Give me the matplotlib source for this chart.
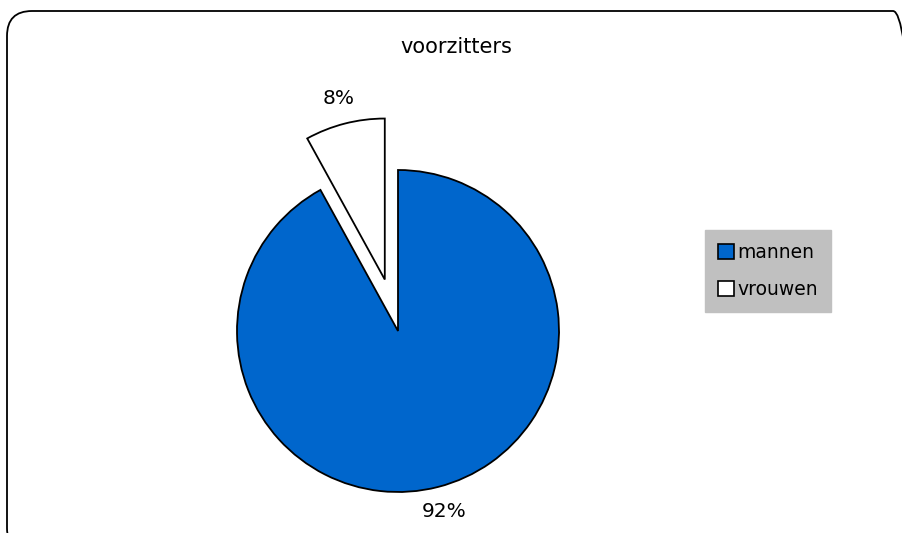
import matplotlib
matplotlib.use("Agg")
import matplotlib.pyplot as plt
from matplotlib.patches import FancyBboxPatch, Patch

categories = ["mannen", "vrouwen"]
values = [92, 8]
colors = ["#0066CC", "#FFFFFF"]
title = "voorzitters"

W, H = 903, 533
fig = plt.figure(figsize=(W / 100, H / 100), dpi=100)
ax = fig.add_axes([0, 0, 1, 1])

font = "DejaVu Sans"
R = 161

wedges, texts, autotexts = ax.pie(
    values,
    colors=colors,
    startangle=90,
    counterclock=False,
    explode=[0, 0.33 * R],
    center=(398, 202),
    radius=R,
    autopct=lambda p: f"{p:.0f}%",
    pctdistance=1.16,
    wedgeprops=dict(edgecolor="black", linewidth=1.3),
    textprops=dict(fontsize=14.5, family=font, color="black"),
)
ax.set_xlim(0, W)
ax.set_ylim(0, H)
ax.set_aspect("equal")
ax.axis("off")

# rounded chart border (right and bottom edges run past the image)
border = FancyBboxPatch((7, -20), 911, 542,
                        boxstyle="round,pad=0,rounding_size=25",
                        facecolor="none", edgecolor="black", linewidth=1.3,
                        clip_on=False)
ax.add_patch(border)

ax.text(456, 486, title, ha="center", va="center", fontsize=15, family=font)

handles = [Patch(facecolor=c, edgecolor="black", linewidth=1.2) for c in colors]
leg = ax.legend(handles, categories, loc="center", bbox_to_anchor=(768, 262),
                bbox_transform=ax.transData,
                prop=dict(family=font, size=13.5), frameon=True, fancybox=False,
                facecolor="#C0C0C0", edgecolor="#C0C0C0", framealpha=1,
                handlelength=0.85, handleheight=0.85, handletextpad=0.2,
                labelspacing=0.95, borderpad=0.7, borderaxespad=0)

fig.savefig("out.png", dpi=100)
